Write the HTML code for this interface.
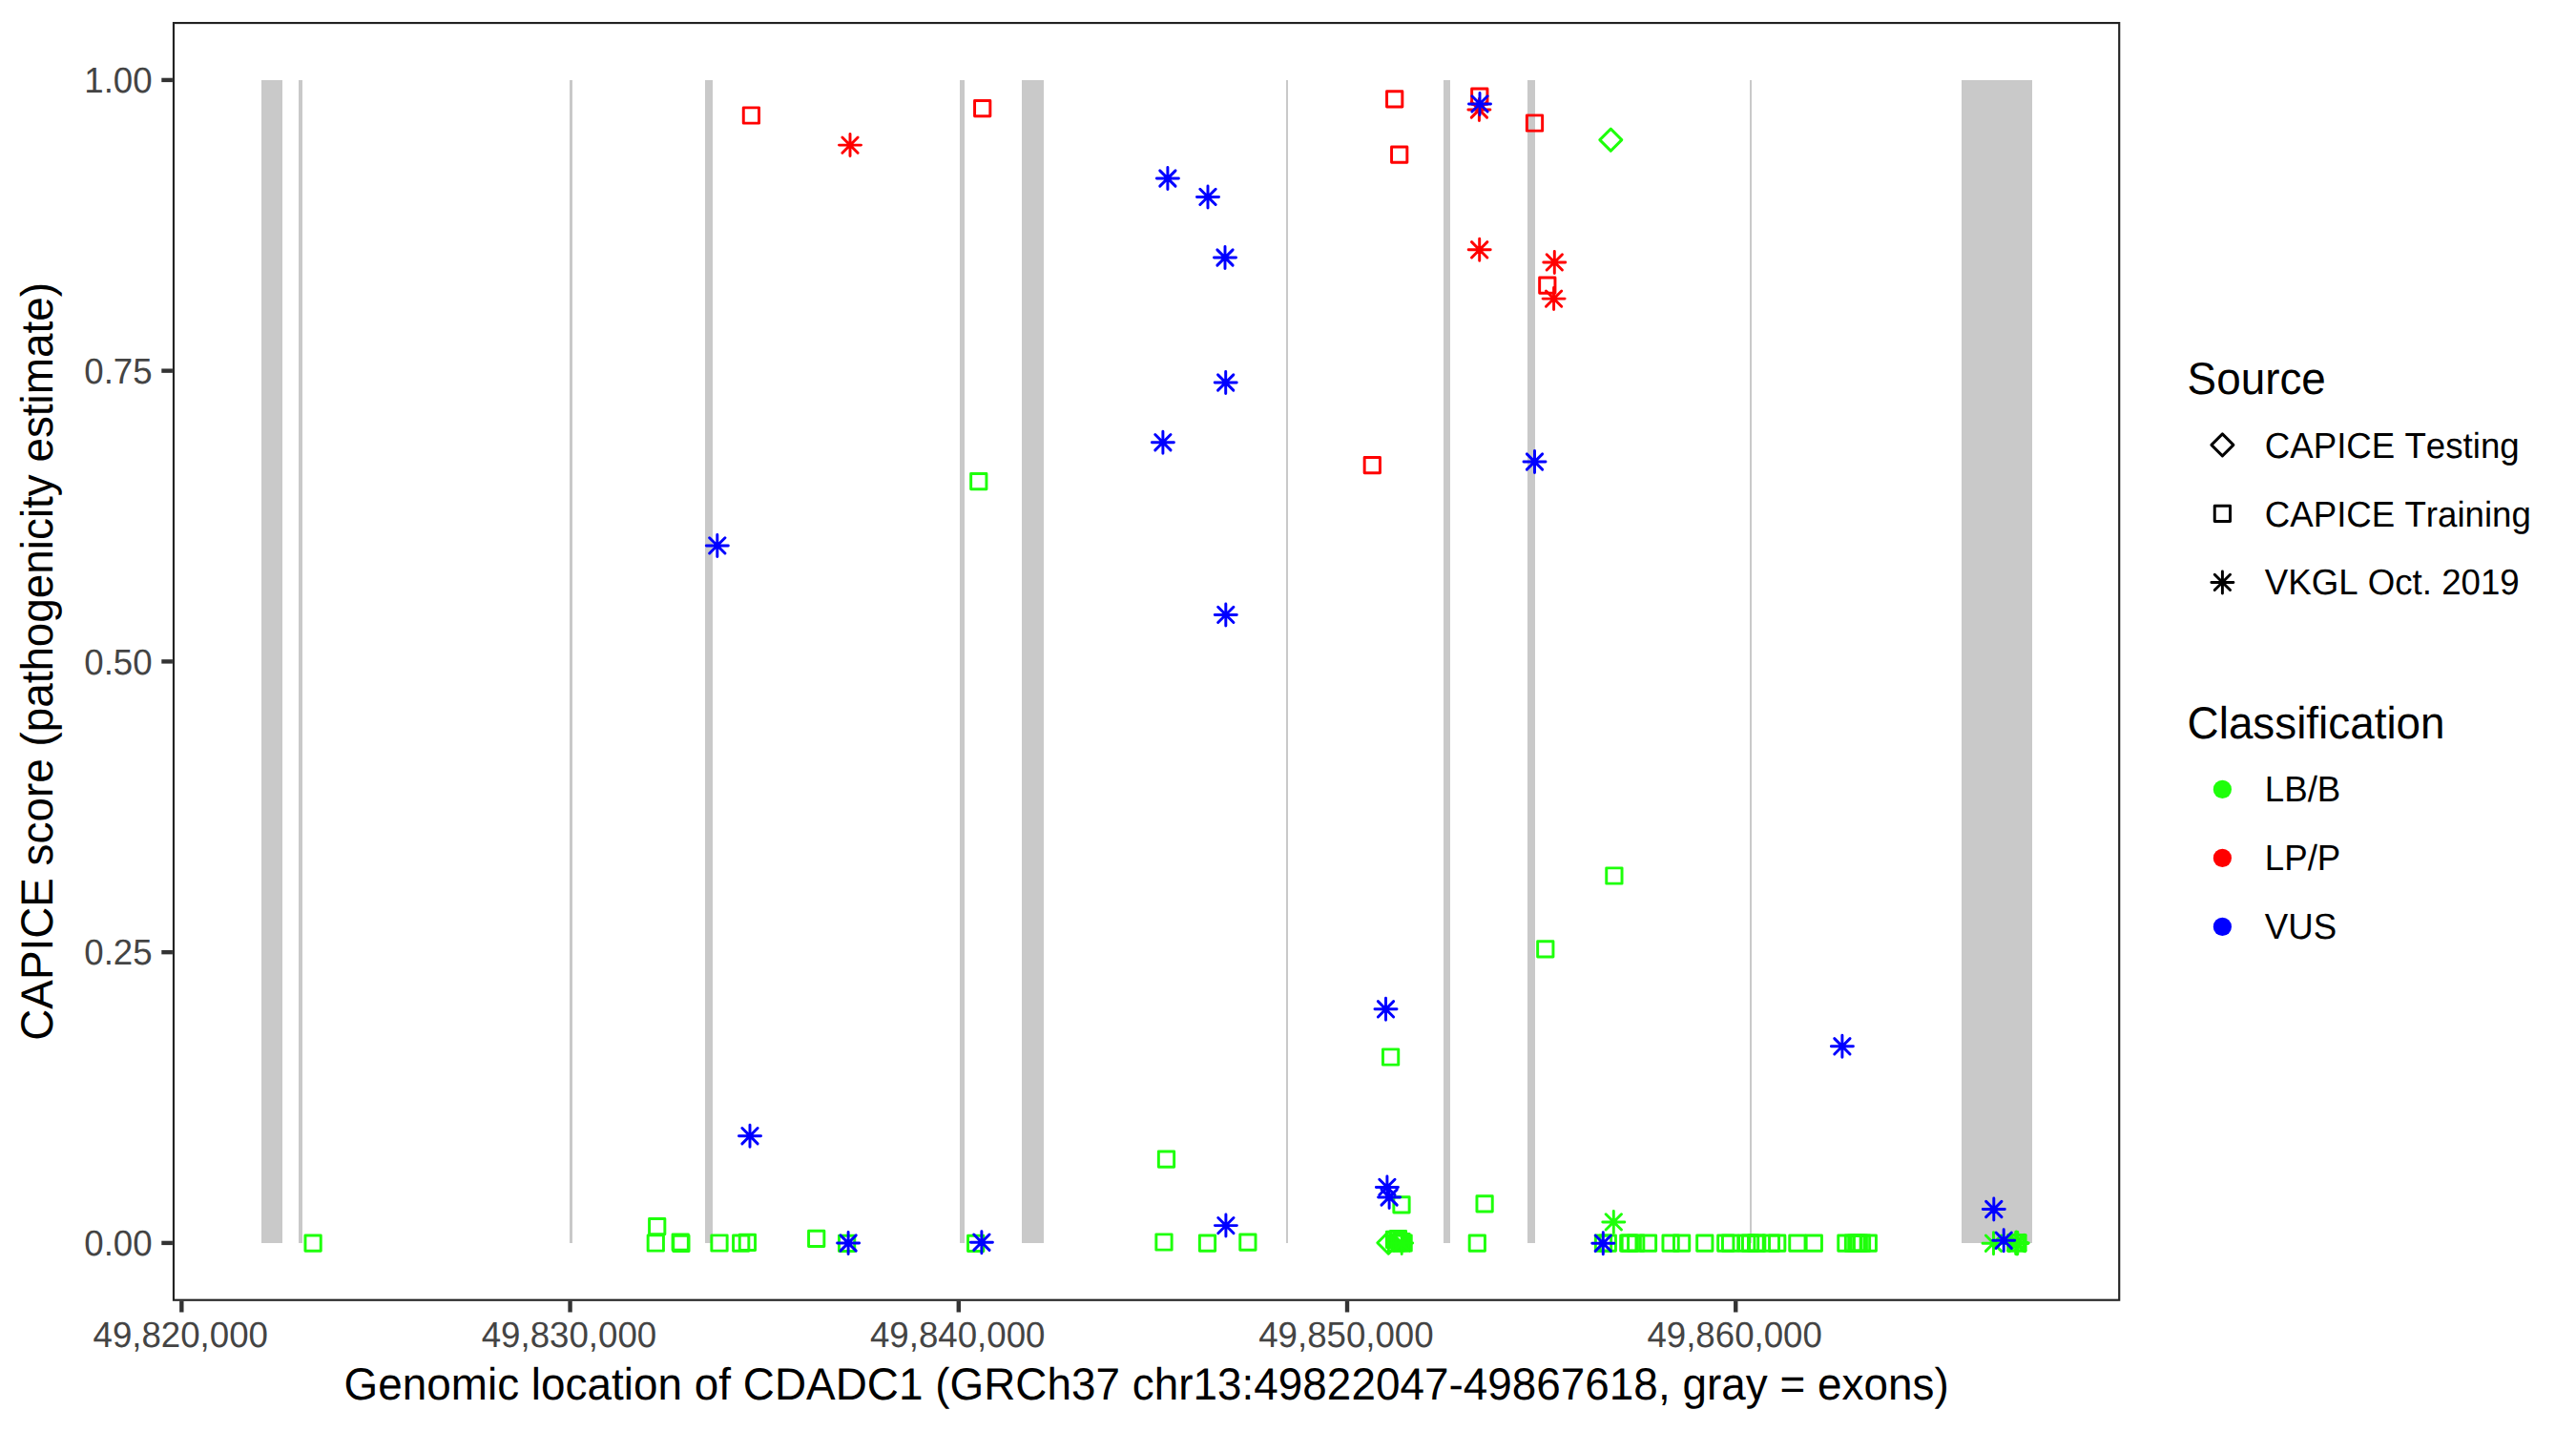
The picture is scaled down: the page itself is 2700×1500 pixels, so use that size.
<!DOCTYPE html>
<html lang="en"><head><meta charset="utf-8"><title>CAPICE score CDADC1</title>
<style>html,body{margin:0;padding:0;background:#fff;overflow:hidden;width:2700px;height:1500px}svg{display:block}text{font-family:"Liberation Sans",Arial,Helvetica,sans-serif;font-kerning:none;text-rendering:geometricPrecision}.tk{font-size:36.67px;fill:#444}.lb{font-size:36.67px;fill:#000}.ti{font-size:45.83px;fill:#000}</style></head><body>
<svg width="2700" height="1500" viewBox="0 0 2700 1500">
<rect width="2700" height="1500" fill="#fff"/>
<g fill="#c9c9c9">
<rect x="274" y="84" width="22" height="1219"/>
<rect x="313" y="84" width="4" height="1219"/>
<rect x="597" y="84" width="3" height="1219"/>
<rect x="739" y="84" width="8" height="1219"/>
<rect x="1006" y="84" width="5" height="1219"/>
<rect x="1071" y="84" width="23" height="1219"/>
<rect x="1348" y="84" width="2" height="1219"/>
<rect x="1513" y="84" width="7" height="1219"/>
<rect x="1601" y="84" width="8" height="1219"/>
<rect x="1834" y="84" width="2" height="1219"/>
<rect x="2056" y="84" width="74" height="1219"/>
</g>
<g fill="none" stroke-width="2.95" stroke-linecap="round" stroke-linejoin="round">
<rect x="319.96" y="1295.06" width="16.28" height="16.28" stroke="#1eff0a"/>
<rect x="680.56" y="1277.46" width="16.28" height="16.28" stroke="#1eff0a"/>
<rect x="679.16" y="1294.86" width="16.28" height="16.28" stroke="#1eff0a"/>
<rect x="705.06" y="1294.06" width="16.28" height="16.28" stroke="#1eff0a"/>
<rect x="705.76" y="1295.26" width="16.28" height="16.28" stroke="#1eff0a"/>
<rect x="745.86" y="1294.86" width="16.28" height="16.28" stroke="#1eff0a"/>
<rect x="768.56" y="1295.06" width="16.28" height="16.28" stroke="#1eff0a"/>
<rect x="775.26" y="1294.16" width="16.28" height="16.28" stroke="#1eff0a"/>
<rect x="847.56" y="1290.26" width="16.28" height="16.28" stroke="#1eff0a"/>
<rect x="879.46" y="1295.16" width="16.28" height="16.28" stroke="#1eff0a"/>
<rect x="1014.56" y="1295.16" width="16.28" height="16.28" stroke="#1eff0a"/>
<rect x="1017.66" y="496.46" width="16.28" height="16.28" stroke="#1eff0a"/>
<rect x="1214.36" y="1207.06" width="16.28" height="16.28" stroke="#1eff0a"/>
<rect x="1211.86" y="1293.86" width="16.28" height="16.28" stroke="#1eff0a"/>
<rect x="1257.36" y="1294.96" width="16.28" height="16.28" stroke="#1eff0a"/>
<rect x="1299.76" y="1294.06" width="16.28" height="16.28" stroke="#1eff0a"/>
<rect x="1449.46" y="1099.86" width="16.28" height="16.28" stroke="#1eff0a"/>
<rect x="1460.86" y="1254.76" width="16.28" height="16.28" stroke="#1eff0a"/>
<path d="M1443.79 1302.7L1455.3 1291.19L1466.81 1302.7L1455.3 1314.21Z" stroke="#1eff0a"/>
<rect x="1453.36" y="1291.26" width="16.28" height="16.28" stroke="#1eff0a"/>
<rect x="1457.36" y="1290.56" width="16.28" height="16.28" stroke="#1eff0a"/>
<rect x="1455.36" y="1294.86" width="16.28" height="16.28" stroke="#1eff0a"/>
<rect x="1458.86" y="1294.86" width="16.28" height="16.28" stroke="#1eff0a"/>
<rect x="1460.86" y="1293.36" width="16.28" height="16.28" stroke="#1eff0a"/>
<rect x="1462.96" y="1294.86" width="16.28" height="16.28" stroke="#1eff0a"/>
<path d="M1457.69 1303H1480.71M1469.2 1291.49V1314.51M1461.06 1294.86L1477.34 1311.14M1461.06 1311.14L1477.34 1294.86" stroke="#1eff0a"/>
<rect x="1540.16" y="1294.96" width="16.28" height="16.28" stroke="#1eff0a"/>
<rect x="1547.96" y="1253.66" width="16.28" height="16.28" stroke="#1eff0a"/>
<rect x="1611.66" y="986.66" width="16.28" height="16.28" stroke="#1eff0a"/>
<rect x="1683.76" y="909.86" width="16.28" height="16.28" stroke="#1eff0a"/>
<rect x="1672.36" y="1294.96" width="16.28" height="16.28" stroke="#1eff0a"/>
<rect x="1677.16" y="1294.96" width="16.28" height="16.28" stroke="#1eff0a"/>
<rect x="1698.66" y="1294.96" width="16.28" height="16.28" stroke="#1eff0a"/>
<rect x="1700.16" y="1294.96" width="16.28" height="16.28" stroke="#1eff0a"/>
<rect x="1706.56" y="1294.96" width="16.28" height="16.28" stroke="#1eff0a"/>
<rect x="1719.36" y="1294.96" width="16.28" height="16.28" stroke="#1eff0a"/>
<rect x="1742.96" y="1294.96" width="16.28" height="16.28" stroke="#1eff0a"/>
<rect x="1754.46" y="1294.96" width="16.28" height="16.28" stroke="#1eff0a"/>
<rect x="1778.66" y="1294.96" width="16.28" height="16.28" stroke="#1eff0a"/>
<rect x="1800.66" y="1294.96" width="16.28" height="16.28" stroke="#1eff0a"/>
<rect x="1805.46" y="1294.96" width="16.28" height="16.28" stroke="#1eff0a"/>
<rect x="1822.66" y="1294.96" width="16.28" height="16.28" stroke="#1eff0a"/>
<rect x="1826.46" y="1294.96" width="16.28" height="16.28" stroke="#1eff0a"/>
<rect x="1832.46" y="1294.96" width="16.28" height="16.28" stroke="#1eff0a"/>
<rect x="1833.56" y="1294.96" width="16.28" height="16.28" stroke="#1eff0a"/>
<rect x="1848.26" y="1294.96" width="16.28" height="16.28" stroke="#1eff0a"/>
<rect x="1854.56" y="1294.96" width="16.28" height="16.28" stroke="#1eff0a"/>
<rect x="1875.76" y="1294.96" width="16.28" height="16.28" stroke="#1eff0a"/>
<rect x="1893.16" y="1294.96" width="16.28" height="16.28" stroke="#1eff0a"/>
<rect x="1926.76" y="1294.96" width="16.28" height="16.28" stroke="#1eff0a"/>
<rect x="1934.36" y="1294.96" width="16.28" height="16.28" stroke="#1eff0a"/>
<rect x="1937.66" y="1294.96" width="16.28" height="16.28" stroke="#1eff0a"/>
<rect x="1940.16" y="1294.96" width="16.28" height="16.28" stroke="#1eff0a"/>
<rect x="1943.36" y="1294.96" width="16.28" height="16.28" stroke="#1eff0a"/>
<rect x="1950.16" y="1294.96" width="16.28" height="16.28" stroke="#1eff0a"/>
<path d="M1679.79 1280.9H1702.81M1691.3 1269.39V1292.41M1683.16 1272.76L1699.44 1289.04M1683.16 1289.04L1699.44 1272.76" stroke="#1eff0a"/>
<path d="M1676.79 146.65L1688.3 135.14L1699.81 146.65L1688.3 158.16Z" stroke="#1eff0a"/>
<path d="M2077.99 1303.2H2101.01M2089.5 1291.69V1314.71M2081.36 1295.06L2097.64 1311.34M2081.36 1311.34L2097.64 1295.06" stroke="#1eff0a"/>
<rect x="2104.66" y="1294.76" width="16.28" height="16.28" stroke="#1eff0a"/>
<rect x="2106.86" y="1294.76" width="16.28" height="16.28" stroke="#1eff0a"/>
<path d="M2101.19 1303H2124.21M2112.7 1291.49V1314.51M2104.56 1294.86L2120.84 1311.14M2104.56 1311.14L2120.84 1294.86" stroke="#1eff0a"/>
<path d="M2101.89 1302.4H2124.91M2113.4 1290.89V1313.91M2105.26 1294.26L2121.54 1310.54M2105.26 1310.54L2121.54 1294.26" stroke="#1eff0a"/>
<path d="M2102.59 1303.5H2125.61M2114.1 1291.99V1315.01M2105.96 1295.36L2122.24 1311.64M2105.96 1311.64L2122.24 1295.36" stroke="#1eff0a"/>
<path d="M2103.29 1303H2126.31M2114.8 1291.49V1314.51M2106.66 1294.86L2122.94 1311.14M2106.66 1311.14L2122.94 1294.86" stroke="#1eff0a"/>
<rect x="779.26" y="112.86" width="16.28" height="16.28" stroke="#ff0000"/>
<rect x="1021.56" y="105.46" width="16.28" height="16.28" stroke="#ff0000"/>
<rect x="1453.56" y="95.71" width="16.28" height="16.28" stroke="#ff0000"/>
<rect x="1458.56" y="154.06" width="16.28" height="16.28" stroke="#ff0000"/>
<rect x="1542.66" y="93.06" width="16.28" height="16.28" stroke="#ff0000"/>
<rect x="1600.36" y="120.86" width="16.28" height="16.28" stroke="#ff0000"/>
<rect x="1613.66" y="291.06" width="16.28" height="16.28" stroke="#ff0000"/>
<rect x="1430.16" y="479.56" width="16.28" height="16.28" stroke="#ff0000"/>
<path d="M879.49 152.1H902.51M891 140.59V163.61M882.86 143.96L899.14 160.24M882.86 160.24L899.14 143.96" stroke="#ff0000"/>
<path d="M1538.89 115H1561.91M1550.4 103.49V126.51M1542.26 106.86L1558.54 123.14M1542.26 123.14L1558.54 106.86" stroke="#ff0000"/>
<path d="M1539.19 261.8H1562.21M1550.7 250.29V273.31M1542.56 253.66L1558.84 269.94M1542.56 269.94L1558.84 253.66" stroke="#ff0000"/>
<path d="M1617.79 274.9H1640.81M1629.3 263.39V286.41M1621.16 266.76L1637.44 283.04M1621.16 283.04L1637.44 266.76" stroke="#ff0000"/>
<path d="M1617.09 313.1H1640.11M1628.6 301.59V324.61M1620.46 304.96L1636.74 321.24M1620.46 321.24L1636.74 304.96" stroke="#ff0000"/>
<path d="M1212.39 187H1235.41M1223.9 175.49V198.51M1215.76 178.86L1232.04 195.14M1215.76 195.14L1232.04 178.86" stroke="#0000ff"/>
<path d="M1254.49 206.4H1277.51M1266 194.89V217.91M1257.86 198.26L1274.14 214.54M1257.86 214.54L1274.14 198.26" stroke="#0000ff"/>
<path d="M1272.49 270H1295.51M1284 258.49V281.51M1275.86 261.86L1292.14 278.14M1275.86 278.14L1292.14 261.86" stroke="#0000ff"/>
<path d="M1273.19 401H1296.21M1284.7 389.49V412.51M1276.56 392.86L1292.84 409.14M1276.56 409.14L1292.84 392.86" stroke="#0000ff"/>
<path d="M1207.39 463.7H1230.41M1218.9 452.19V475.21M1210.76 455.56L1227.04 471.84M1210.76 471.84L1227.04 455.56" stroke="#0000ff"/>
<path d="M1273.29 644.4H1296.31M1284.8 632.89V655.91M1276.66 636.26L1292.94 652.54M1276.66 652.54L1292.94 636.26" stroke="#0000ff"/>
<path d="M740.29 571.9H763.31M751.8 560.39V583.41M743.66 563.76L759.94 580.04M743.66 580.04L759.94 563.76" stroke="#0000ff"/>
<path d="M1596.99 484H1620.01M1608.5 472.49V495.51M1600.36 475.86L1616.64 492.14M1600.36 492.14L1616.64 475.86" stroke="#0000ff"/>
<path d="M1539.49 108.9H1562.51M1551 97.39V120.41M1542.86 100.76L1559.14 117.04M1542.86 117.04L1559.14 100.76" stroke="#0000ff"/>
<path d="M774.49 1190.7H797.51M786 1179.19V1202.21M777.86 1182.56L794.14 1198.84M777.86 1198.84L794.14 1182.56" stroke="#0000ff"/>
<path d="M1440.99 1057.8H1464.01M1452.5 1046.29V1069.31M1444.36 1049.66L1460.64 1065.94M1444.36 1065.94L1460.64 1049.66" stroke="#0000ff"/>
<path d="M1442.39 1244.4H1465.41M1453.9 1232.89V1255.91M1445.76 1236.26L1462.04 1252.54M1445.76 1252.54L1462.04 1236.26" stroke="#0000ff"/>
<path d="M1444.59 1255H1467.61M1456.1 1243.49V1266.51M1447.96 1246.86L1464.24 1263.14M1447.96 1263.14L1464.24 1246.86" stroke="#0000ff"/>
<path d="M1273.39 1284.6H1296.41M1284.9 1273.09V1296.11M1276.76 1276.46L1293.04 1292.74M1276.76 1292.74L1293.04 1276.46" stroke="#0000ff"/>
<path d="M877.59 1303H900.61M889.1 1291.49V1314.51M880.96 1294.86L897.24 1311.14M880.96 1311.14L897.24 1294.86" stroke="#0000ff"/>
<path d="M1017.39 1302.2H1040.41M1028.9 1290.69V1313.71M1020.76 1294.06L1037.04 1310.34M1020.76 1310.34L1037.04 1294.06" stroke="#0000ff"/>
<path d="M1668.79 1303.2H1691.81M1680.3 1291.69V1314.71M1672.16 1295.06L1688.44 1311.34M1672.16 1311.34L1688.44 1295.06" stroke="#0000ff"/>
<path d="M1919.39 1096.8H1942.41M1930.9 1085.29V1108.31M1922.76 1088.66L1939.04 1104.94M1922.76 1104.94L1939.04 1088.66" stroke="#0000ff"/>
<path d="M2078.29 1267.5H2101.31M2089.8 1255.99V1279.01M2081.66 1259.36L2097.94 1275.64M2081.66 1275.64L2097.94 1259.36" stroke="#0000ff"/>
<path d="M2088.69 1300.2H2111.71M2100.2 1288.69V1311.71M2092.06 1292.06L2108.34 1308.34M2092.06 1308.34L2108.34 1292.06" stroke="#0000ff"/>
</g>
<rect x="181.97" y="24.07" width="2039.25" height="1338.65" fill="none" stroke="#222" stroke-width="2.15"/>
<g stroke="#333" stroke-width="4.4">
<path d="M169.3 1302.9H180.9"/>
<path d="M169.3 998.15H180.9"/>
<path d="M169.3 693.4H180.9"/>
<path d="M169.3 388.65H180.9"/>
<path d="M169.3 83.9H180.9"/>
<path d="M190.33 1363.8V1375.5"/>
<path d="M597.56 1363.8V1375.5"/>
<path d="M1004.79 1363.8V1375.5"/>
<path d="M1412.02 1363.8V1375.5"/>
<path d="M1819.25 1363.8V1375.5"/>
</g>
<text class="tk" transform="translate(159.6 1316.1) scale(1 1.03)" text-anchor="end">0.00</text>
<text class="tk" transform="translate(159.6 1011.35) scale(1 1.03)" text-anchor="end">0.25</text>
<text class="tk" transform="translate(159.6 706.6) scale(1 1.03)" text-anchor="end">0.50</text>
<text class="tk" transform="translate(159.6 401.85) scale(1 1.03)" text-anchor="end">0.75</text>
<text class="tk" transform="translate(159.6 97.1) scale(1 1.03)" text-anchor="end">1.00</text>
<text class="tk" transform="translate(189.23 1412) scale(1 1.03)" text-anchor="middle">49,820,000</text>
<text class="tk" transform="translate(596.46 1412) scale(1 1.03)" text-anchor="middle">49,830,000</text>
<text class="tk" transform="translate(1003.69 1412) scale(1 1.03)" text-anchor="middle">49,840,000</text>
<text class="tk" transform="translate(1410.92 1412) scale(1 1.03)" text-anchor="middle">49,850,000</text>
<text class="tk" transform="translate(1818.15 1412) scale(1 1.03)" text-anchor="middle">49,860,000</text>
<text class="ti" transform="translate(1201.6 1467.2) scale(1 1.03)" text-anchor="middle" style="letter-spacing:0.03px">Genomic location of CDADC1 (GRCh37 chr13:49822047-49867618, gray = exons)</text>
<text class="ti" transform="translate(55.3 693.4) rotate(-90) scale(1 1.03)" text-anchor="middle">CAPICE score (pathogenicity estimate)</text>
<text class="ti" transform="translate(2292.6 412.9) scale(1 1.03)">Source</text>
<g fill="none" stroke="#000" stroke-width="2.95" stroke-linecap="round" stroke-linejoin="round">
<path d="M2317.89 466.4L2329.4 454.89L2340.91 466.4L2329.4 477.91Z" stroke="#000"/>
<rect x="2321.26" y="530.26" width="16.28" height="16.28" stroke="#000"/>
<path d="M2317.89 610.4H2340.91M2329.4 598.89V621.91M2321.26 602.26L2337.54 618.54M2321.26 618.54L2337.54 602.26" stroke="#000"/>
</g>
<text class="lb" transform="translate(2373.8 479.7) scale(1 1.03)">CAPICE Testing</text>
<text class="lb" transform="translate(2373.8 551.5) scale(1 1.03)">CAPICE Training</text>
<text class="lb" transform="translate(2373.8 623.3) scale(1 1.03)">VKGL Oct. 2019</text>
<text class="ti" transform="translate(2292.6 773.5) scale(1 1.03)">Classification</text>
<circle cx="2329.4" cy="827.4" r="9.6" fill="#1eff0a"/>
<circle cx="2329.4" cy="899.4" r="9.6" fill="#ff0000"/>
<circle cx="2329.4" cy="971.4" r="9.6" fill="#0000ff"/>
<text class="lb" transform="translate(2373.8 840.3) scale(1 1.03)">LB/B</text>
<text class="lb" transform="translate(2373.8 912.3) scale(1 1.03)">LP/P</text>
<text class="lb" transform="translate(2373.8 984.2) scale(1 1.03)">VUS</text>
</svg></body></html>
